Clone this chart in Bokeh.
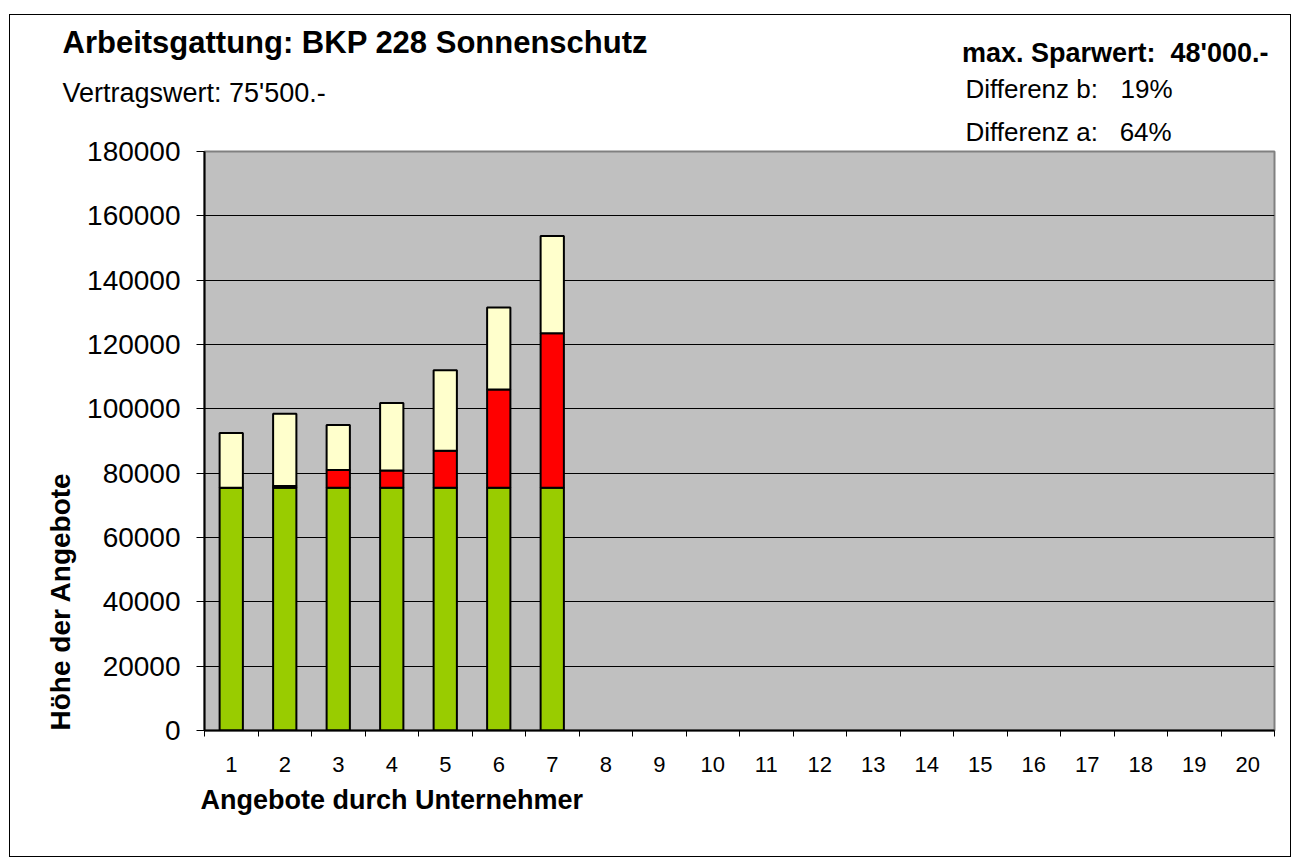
from bokeh.plotting import figure
from bokeh.layouts import column
from bokeh.models import (Title, FixedTicker, NumeralTickFormatter,
                          Range1d, ColumnDataSource)
from bokeh.core.properties import value
from bokeh.embed import file_html
from bokeh.resources import INLINE

# ---- data ----
angebote = [1, 2, 3, 4, 5, 6, 7]
vertragswert = [75500, 75500, 75500, 75500, 75500, 75500, 75500]   # green part
mehrkosten = [0, 500, 5500, 5300, 11500, 30500, 48000]            # red part
differenz = [17000, 22500, 14000, 21000, 25000, 25500, 30200]      # light yellow part
x_tick_labels = ["1", "2", "3", "4", "5", "6", "7", "8", "9", "10",
                 "11", "12", "13", "14", "15", "16", "17", "18", "19", "20"]
y_ticks = [0, 20000, 40000, 60000, 80000, 100000, 120000, 140000, 160000, 180000]

NB = "\u00a0"
title_text = "Arbeitsgattung: BKP 228 Sonnenschutz"
vertrag_text = "Vertragswert: 75'500.-"
spar_text = "max. Sparwert:" + NB + " 48'000.-"
diff_b_label, diff_b_value = "Differenz b:", "19%"
diff_a_text = "Differenz a:" + NB * 3 + "64%"
x_label = "Angebote durch Unternehmer"
y_label = "Höhe der Angebote"

FONT = "Liberation Sans"

# ---- layout geometry (page pixels) ----
OX, OY = 10, 15                             # canvas origin on the page (inside the border)
HDR_BOTTOM = 110                            # page y where the header strip ends
FX0, FX1, FY0, FY1 = 204, 1274, 730, 150   # frame left/right, bottom(0)/top(180000)
W = 1280
H_TOTAL = 841
H_HDR = HDR_BOTTOM - OY
H_MAIN = H_TOTAL - H_HDR
n_cat = len(x_tick_labels)
x_lo, x_hi = 0.5, n_cat + 0.5
y_lo, y_hi = 0, 180000

# ---------------- header strip ----------------
hdr = figure(width=W, height=H_HDR, x_range=Range1d(0, W), y_range=Range1d(H_HDR, 0),
             output_backend="svg", toolbar_location=None,
             x_axis_type=None, y_axis_type=None, min_border=0)
hdr.title.visible = False
hdr.outline_line_color = None
hdr.background_fill_color = "white"
hdr.border_fill_color = "white"
try:
    hdr.frame_align = False
except AttributeError:
    pass


def htext(text, px, py, size, bold=False, align="left"):
    hdr.text(x=[px - OX], y=[py - OY], text=[text], text_font=value(FONT),
             text_font_size=size, text_font_style="bold" if bold else "normal",
             text_align=align, text_baseline="middle", text_color="black")


htext(title_text, 62, 42, "31px", bold=True)
htext(vertrag_text, 62, 92, "27px")
htext(spar_text, 1268, 52, "27px", bold=True, align="right")
htext(diff_b_label, 965, 88, "26px")
htext(diff_b_value, 1120, 88, "26px")

# ---------------- main chart ----------------
p = figure(width=W, height=H_MAIN,
           x_range=Range1d(x_lo, x_hi), y_range=Range1d(y_lo, y_hi),
           output_backend="svg", toolbar_location=None,
           min_border_left=FX0 - OX, min_border_right=W - (FX1 - OX),
           min_border_top=FY1 - HDR_BOTTOM,
           min_border_bottom=H_MAIN - (FY0 - HDR_BOTTOM))
try:
    p.frame_align = False
except AttributeError:
    pass
p.title.visible = False
p.background_fill_color = "#C0C0C0"
p.border_fill_color = "white"
p.outline_line_color = "#808080"
p.outline_line_width = 2

src = ColumnDataSource(dict(x=angebote, green=vertragswert, red=mehrkosten, yellow=differenz))
p.vbar_stack(["green", "red", "yellow"], x="x", width=0.435, source=src,
             fill_color=["#99CC00", "#FF0000", "#FFFFCC"],
             line_color="black", line_width=2)

# grid
p.xgrid.visible = False
p.ygrid.ticker = FixedTicker(ticks=y_ticks)
p.ygrid.grid_line_color = "black"
p.ygrid.grid_line_width = 1

# x axis
centers = [i + 1 for i in range(n_cat)]
bounds = [i + 0.5 for i in range(n_cat + 1)]
xa = p.xaxis[0]
xa.ticker = FixedTicker(ticks=centers, minor_ticks=bounds)
xa.major_label_overrides = {c: t for c, t in zip(centers, x_tick_labels)}
xa.major_tick_out = 0
xa.major_tick_in = 0
xa.minor_tick_out = 6
xa.minor_tick_in = 0
xa.minor_tick_line_color = "black"
xa.axis_line_color = "black"
xa.axis_line_width = 2
xa.major_label_standoff = 20
xa.major_label_text_font = FONT
xa.major_label_text_font_size = "22px"
xa.major_label_text_color = "black"

# y axis
ya = p.yaxis[0]
ya.ticker = FixedTicker(ticks=y_ticks)
ya.formatter = NumeralTickFormatter(format="0")
ya.major_tick_out = 8
ya.major_tick_in = 0
ya.minor_tick_out = 0
ya.minor_tick_in = 0
ya.major_tick_line_color = "black"
ya.axis_line_color = "black"
ya.axis_line_width = 2
ya.major_label_standoff = 16
ya.major_label_text_font = FONT
ya.major_label_text_font_size = "28px"
ya.major_label_text_color = "black"

# side-panel titles
p.add_layout(Title(text=diff_a_text, align="left", offset=965 - FX0, text_font=FONT,
                   text_font_size="26px", text_font_style="normal", text_color="black",
                   standoff=9), "above")
p.add_layout(Title(text=y_label, align="left", text_font=FONT, text_font_size="28px",
                   text_font_style="bold", text_color="black", standoff=18), "left")
p.add_layout(Title(text=x_label, align="left", offset=-4, text_font=FONT,
                   text_font_size="27px", text_font_style="bold", text_color="black",
                   standoff=16), "below")

layout = column(hdr, p, spacing=0,
                styles={"border": "1px solid black", "margin-left": "9px", "margin-top": "14px"})

open("out.html", "w").write(file_html(layout, INLINE))
